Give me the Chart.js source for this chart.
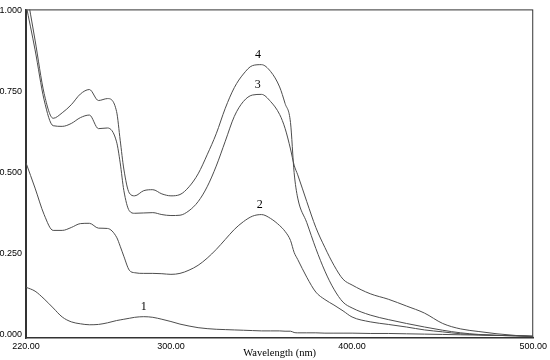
<!DOCTYPE html>
<html>
<head>
<meta charset="utf-8">
<script src="https://cdn.jsdelivr.net/npm/chart.js@4.4.0/dist/chart.umd.min.js"></script>
<style>
    html, body { margin: 0; padding: 0; background: #fff; }
    #wrap { width: 550px; height: 360px; }
</style>
</head>
<body>
<div id="wrap"><canvas id="uvChart" width="550" height="360"></canvas></div>
<script>
// Absorption spectra, values (nm / absorbance)
const wavelengths = [220, 225, 230, 235, 240, 245, 250, 255, 260, 265,
    270, 272, 274, 277, 280, 285, 290, 295, 300, 305,
    310, 315, 320, 325, 330, 335, 340, 345, 350, 355,
    360, 363, 366, 368, 370, 375, 380, 385, 390, 395,
    400, 410, 420, 430, 440, 450, 460, 470, 480, 490, 500];

const curve1 = [0.145, 0.133, 0.109, 0.081, 0.053, 0.038, 0.032, 0.029, 0.030, 0.035,
    0.042, 0.044, 0.046, 0.049, 0.052, 0.054, 0.052, 0.046, 0.039, 0.031,
    0.025, 0.020, 0.017, 0.015, 0.014, 0.013, 0.012, 0.011, 0.010, 0.010,
    0.010, 0.009, 0.009, 0.005, 0.004, 0.004, 0.004, 0.003, 0.003, 0.003,
    0.003, 0.002, 0.002, 0.001, 0.000, -0.001, -0.002, -0.003, -0.004, -0.005, -0.006];

const curve2 = [0.530, 0.452, 0.370, 0.321, 0.321, 0.330, 0.342, 0.343, 0.328, 0.327,
    0.300, 0.272, 0.241, 0.198, 0.190, 0.188, 0.188, 0.187, 0.185, 0.188,
    0.198, 0.213, 0.235, 0.262, 0.293, 0.324, 0.348, 0.365, 0.370, 0.358,
    0.336, 0.318, 0.290, 0.253, 0.231, 0.176, 0.130, 0.107, 0.090, 0.072,
    0.053, 0.038, 0.030, 0.022, 0.013, 0.007, 0.001, -0.002, -0.004, -0.005, -0.007];

const curve3 = [1.020, 0.880, 0.725, 0.645, 0.643, 0.652, 0.670, 0.678, 0.636, 0.638,
    0.595, 0.530, 0.445, 0.382, 0.374, 0.375, 0.376, 0.370, 0.367, 0.368,
    0.382, 0.410, 0.456, 0.520, 0.597, 0.674, 0.720, 0.740, 0.742, 0.720,
    0.680, 0.637, 0.573, 0.523, 0.493, 0.410, 0.330, 0.268, 0.213, 0.170,
    0.152, 0.125, 0.108, 0.087, 0.065, 0.033, 0.016, 0.008, 0.001, -0.004, -0.008];

const curve4 = [1.070, 0.910, 0.745, 0.668, 0.685, 0.710, 0.743, 0.757, 0.723, 0.729,
    0.689, 0.600, 0.511, 0.437, 0.428, 0.444, 0.447, 0.434, 0.428, 0.432,
    0.456, 0.496, 0.555, 0.620, 0.699, 0.763, 0.805, 0.831, 0.834, 0.813,
    0.765, 0.714, 0.655, 0.500, 0.421, 0.345, 0.265, 0.195, 0.139, 0.099,
    0.081, 0.059, 0.045, 0.033, 0.022, 0.012, 0.004, -0.001, -0.004, -0.005, -0.007];

const series = [curve1, curve2, curve3, curve4];
const curveLabels = ['1', '2', '3', '4'];
const xTicks = [220, 300, 400, 500];
const yTicks = [0, 0.25, 0.5, 0.75, 1.0];

const lineColor = '#4d4d4d';
const axisColor = '#333';

// Box round the plot area (top and right edges)
const frame = {
    id: 'frame',
    beforeDatasetsDraw(chart) {
        const { ctx, chartArea: a } = chart;
        ctx.save();
        ctx.strokeStyle = axisColor;
        ctx.lineWidth = 1;
        ctx.strokeRect(a.left + 0.5, a.top + 0.5, a.width - 1, a.height - 1);
        ctx.restore();
    }
};

// Curve numbers above the main band maximum of each spectrum
const peakLabels = {
    id: 'peakLabels',
    afterDatasetsDraw(chart) {
        const { ctx, scales: { x, y } } = chart;
        ctx.save();
        ctx.font = '12px "Liberation Serif", serif';
        ctx.fillStyle = '#000';
        ctx.textAlign = 'center';
        ctx.textBaseline = 'bottom';
        series.forEach((vals, k) => {
            let best = -1;
            wavelengths.forEach((w, i) => {
                if (w >= 270 && (best < 0 || vals[i] > vals[best])) best = i;
            });
            // parabolic vertex through the three points round the maximum
            const y0 = vals[best - 1], y1 = vals[best], y2 = vals[best + 1];
            const den = y0 - 2 * y1 + y2;
            const shift = den !== 0 ? 0.5 * (y0 - y2) / den : 0;
            const step = (wavelengths[best + 1] - wavelengths[best - 1]) / 2;
            const wl = wavelengths[best] + shift * step;
            ctx.fillText(curveLabels[k], x.getPixelForValue(wl), y.getPixelForValue(y1) - 4);
        });
        ctx.restore();
    }
};

const ctx = document.getElementById('uvChart');

new Chart(ctx, {
    type: 'line',
    data: {
        datasets: series.map((vals, k) => ({
            label: curveLabels[k],
            data: wavelengths.map((w, i) => ({ x: w, y: vals[i] })),
            borderColor: lineColor,
            borderWidth: 1,
            pointRadius: 0,
            fill: false,
            cubicInterpolationMode: 'monotone'
        }))
    },
    options: {
        responsive: false,
        animation: false,
        layout: { padding: { left: 0, right: 14, top: 7, bottom: 0 } },
        plugins: {
            legend: { display: false },
            tooltip: { enabled: false }
        },
        scales: {
            x: {
                type: 'linear',
                min: 220,
                max: 500,
                grid: { display: false, drawTicks: false },
                border: { display: true, color: axisColor, width: 1.5 },
                afterBuildTicks: scale => { scale.ticks = xTicks.map(v => ({ value: v })); },
                afterFit: scale => { scale.height = 22; },
                ticks: {
                    color: '#000',
                    padding: 3,
                    maxRotation: 0,
                    autoSkip: false,
                    font: { family: '"Liberation Sans", Arial, sans-serif', size: 9 },
                    callback: v => v.toFixed(2)
                },
                title: {
                    display: true,
                    text: 'Wavelength (nm)',
                    color: '#000',
                    padding: 0,
                    font: { family: '"Liberation Serif", serif', size: 10.5, lineHeight: 1.2 }
                }
            },
            y: {
                min: -0.012,
                max: 1.005,
                grid: { display: false, drawTicks: false },
                border: { display: true, color: axisColor, width: 1.5 },
                afterBuildTicks: scale => { scale.ticks = yTicks.map(v => ({ value: v })); },
                afterFit: scale => { scale.width = 26; },
                ticks: {
                    color: '#000',
                    padding: 4,
                    autoSkip: false,
                    font: { family: '"Liberation Sans", Arial, sans-serif', size: 9 },
                    callback: v => v.toFixed(3)
                }
            }
        }
    },
    plugins: [frame, peakLabels]
});
</script>
</body>
</html>
